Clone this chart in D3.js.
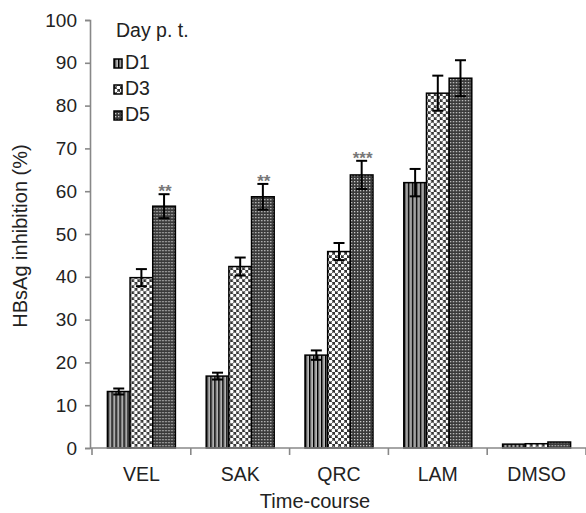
<!DOCTYPE html>
<html>
<head>
<meta charset="utf-8">
<script src="https://cdn.jsdelivr.net/npm/d3@7/dist/d3.min.js"></script>
<style>
  body { margin: 0; background: #fff; }
  svg { display: block; font-family: "Liberation Sans", Arial, sans-serif; }
</style>
</head>
<body>
<div id="chart"></div>
<script>
// groups along the x axis
var categories = ["VEL", "SAK", "QRC", "LAM", "DMSO"];
var seriesNames = ["D1", "D3", "D5"];

// HBsAg inhibition (%) per day post treatment
var d1 = [13.2, 16.8, 21.7, 62.0, 0.9];
var d3v = [39.8, 42.4, 45.9, 82.9, 1.0];
var d5 = [56.5, 58.7, 63.8, 86.4, 1.4];

// error bars (+/-)
var d1Err = [0.7, 0.8, 1.1, 3.2, 0.1];
var d3Err = [2.0, 2.1, 2.0, 4.1, 0.1];
var d5Err = [2.8, 3.0, 3.3, 4.2, 0.1];

// significance marks over the D5 bars
var stars = ["**", "**", "***", "", ""];

var yTicks = [0, 10, 20, 30, 40, 50, 60, 70, 80, 90, 100];

var width = 586, height = 513;
var x0 = 92, x1 = 586, yTop = 20, yBottom = 448;
var groupWidth = 68;

var svg = d3.select("#chart").append("svg")
            .attr("width", width)
            .attr("height", height);

// fill patterns, one per series
var defs = svg.append("defs");

var p1 = defs.append("pattern").attr("id", "pat-D1")
             .attr("patternUnits", "userSpaceOnUse")
             .attr("width", 4).attr("height", 4);
p1.append("rect").attr("width", 4).attr("height", 4).attr("fill", "#eee");
p1.append("rect").attr("x", 0).attr("width", 1.6).attr("height", 4).attr("fill", "#000");
p1.append("rect").attr("x", 2.4).attr("width", 1).attr("height", 4).attr("fill", "#666");

var p3 = defs.append("pattern").attr("id", "pat-D3")
             .attr("patternUnits", "userSpaceOnUse")
             .attr("width", 6).attr("height", 6);
p3.append("rect").attr("width", 6).attr("height", 6).attr("fill", "#333");
p3.append("circle").attr("cx", 1.5).attr("cy", 1.5).attr("r", 1.9).attr("fill", "#fff");
p3.append("circle").attr("cx", 4.5).attr("cy", 4.5).attr("r", 1.9).attr("fill", "#fff");

var p5 = defs.append("pattern").attr("id", "pat-D5")
             .attr("patternUnits", "userSpaceOnUse")
             .attr("width", 3).attr("height", 3);
p5.append("rect").attr("width", 3).attr("height", 3).attr("fill", "#3a3a3a");
p5.append("rect").attr("x", 1).attr("y", 1).attr("width", 1.3).attr("height", 1.3).attr("fill", "#ccc");

var x = d3.scaleBand()
          .domain(categories)
          .range([x0, x1])
          .padding(0);

var xs = d3.scaleBand()
           .domain(seriesNames)
           .range([0, groupWidth]);

var y = d3.scaleLinear()
          .domain([0, 100])
          .range([yBottom, yTop]);

var rows = categories.map(function(c, i) {
    return {
        cat: c,
        values: [
            {key: "D1", v: d1[i], e: d1Err[i], star: ""},
            {key: "D3", v: d3v[i], e: d3Err[i], star: ""},
            {key: "D5", v: d5[i], e: d5Err[i], star: stars[i]}
        ]
    };
});

// y axis
var yAxis = d3.axisLeft(y).tickValues(yTicks).tickSize(5).tickPadding(8);
var yG = svg.append("g")
            .attr("transform", "translate(" + (x0 - 2) + ",0)")
            .call(yAxis);
yG.select(".domain").attr("stroke", "#888").attr("stroke-width", 1.6);
yG.selectAll(".tick line").attr("stroke", "#888").attr("stroke-width", 1.6);
yG.selectAll(".tick text").attr("font-size", "19px").attr("fill", "#222")
  .attr("font-family", "Liberation Sans, Arial, sans-serif");

// groups of bars
var groups = svg.selectAll(".grp")
                .data(rows)
                .enter().append("g")
                .attr("class", "grp")
                .attr("transform", function(d) {
                    return "translate(" + (x(d.cat) + (x.bandwidth() - groupWidth) / 2) + ",0)";
                });

groups.selectAll("rect.bar")
      .data(function(d) { return d.values; })
      .enter().append("rect")
      .attr("class", "bar")
      .attr("x", function(d) { return xs(d.key); })
      .attr("y", function(d) { return y(d.v); })
      .attr("width", xs.bandwidth())
      .attr("height", function(d) { return y(0) - y(d.v); })
      .attr("fill", function(d) { return "url(#pat-" + d.key + ")"; })
      .attr("stroke", "#000")
      .attr("stroke-width", 1.5);

// error bars
var eb = groups.selectAll("g.err")
               .data(function(d) { return d.values.filter(function(v) { return v.e > 0.3; }); })
               .enter().append("g")
               .attr("class", "err")
               .attr("stroke", "#000")
               .attr("stroke-width", 2);
eb.append("line")
  .attr("x1", function(d) { return xs(d.key) + xs.bandwidth() / 2; })
  .attr("x2", function(d) { return xs(d.key) + xs.bandwidth() / 2; })
  .attr("y1", function(d) { return y(d.v - d.e); })
  .attr("y2", function(d) { return y(d.v + d.e); });
eb.append("line")
  .attr("x1", function(d) { return xs(d.key) + xs.bandwidth() / 2 - 5.5; })
  .attr("x2", function(d) { return xs(d.key) + xs.bandwidth() / 2 + 5.5; })
  .attr("y1", function(d) { return y(d.v + d.e); })
  .attr("y2", function(d) { return y(d.v + d.e); });
eb.append("line")
  .attr("x1", function(d) { return xs(d.key) + xs.bandwidth() / 2 - 5.5; })
  .attr("x2", function(d) { return xs(d.key) + xs.bandwidth() / 2 + 5.5; })
  .attr("y1", function(d) { return y(d.v - d.e); })
  .attr("y2", function(d) { return y(d.v - d.e); });

// significance asterisks
groups.selectAll("text.star")
      .data(function(d) { return d.values.filter(function(v) { return v.star; }); })
      .enter().append("text")
      .attr("class", "star")
      .attr("x", function(d) { return xs(d.key) + xs.bandwidth() / 2 + 1; })
      .attr("y", function(d) { return y(d.v + d.e) + 3; })
      .attr("text-anchor", "middle")
      .attr("font-size", "17px")
      .attr("font-weight", "bold")
      .attr("fill", "#777")
      .text(function(d) { return d.star; });

// x axis
var xAxis = d3.axisBottom(x).tickSize(0).tickPadding(19);
var xG = svg.append("g")
            .attr("transform", "translate(0," + yBottom + ")")
            .call(xAxis);
xG.select(".domain").attr("stroke", "#888").attr("stroke-width", 1.6)
  .attr("d", "M" + (x0 - 2) + ",0H" + x1);
xG.selectAll(".tick text").attr("font-size", "19.5px").attr("fill", "#222")
  .attr("font-family", "Liberation Sans, Arial, sans-serif");
// boundary ticks between categories
xG.selectAll(".bound")
  .data(categories.concat(["end"]))
  .enter().append("line")
  .attr("class", "bound")
  .attr("x1", function(d, i) { return i < categories.length ? x(d) : x1; })
  .attr("x2", function(d, i) { return i < categories.length ? x(d) : x1; })
  .attr("y1", 0).attr("y2", 7)
  .attr("stroke", "#888").attr("stroke-width", 1.6);

// axis titles
svg.append("text")
   .attr("transform", "translate(27,236) rotate(-90)")
   .attr("text-anchor", "middle")
   .attr("font-size", "20px")
   .attr("fill", "#222")
   .text("HBsAg inhibition (%)");

svg.append("text")
   .attr("x", 315).attr("y", 508)
   .attr("text-anchor", "middle")
   .attr("font-size", "20px")
   .attr("fill", "#222")
   .text("Time-course");

// legend
var legend = svg.append("g").attr("transform", "translate(114,0)");
legend.append("text")
      .attr("x", 2).attr("y", 37)
      .attr("font-size", "19.5px").attr("fill", "#222")
      .text("Day p. t.");
var li = legend.selectAll("g.item")
               .data(seriesNames)
               .enter().append("g")
               .attr("class", "item")
               .attr("transform", function(d, i) { return "translate(0," + (69 + i * 26) + ")"; });
li.append("rect")
  .attr("x", 0).attr("y", -10)
  .attr("width", 8).attr("height", 9)
  .attr("fill", function(d) { return "url(#pat-" + d + ")"; })
  .attr("stroke", "#000").attr("stroke-width", 1.5);
li.append("text")
  .attr("x", 11).attr("y", 0)
  .attr("font-size", "19.5px").attr("fill", "#222")
  .text(function(d) { return d; });
</script>
</body>
</html>
